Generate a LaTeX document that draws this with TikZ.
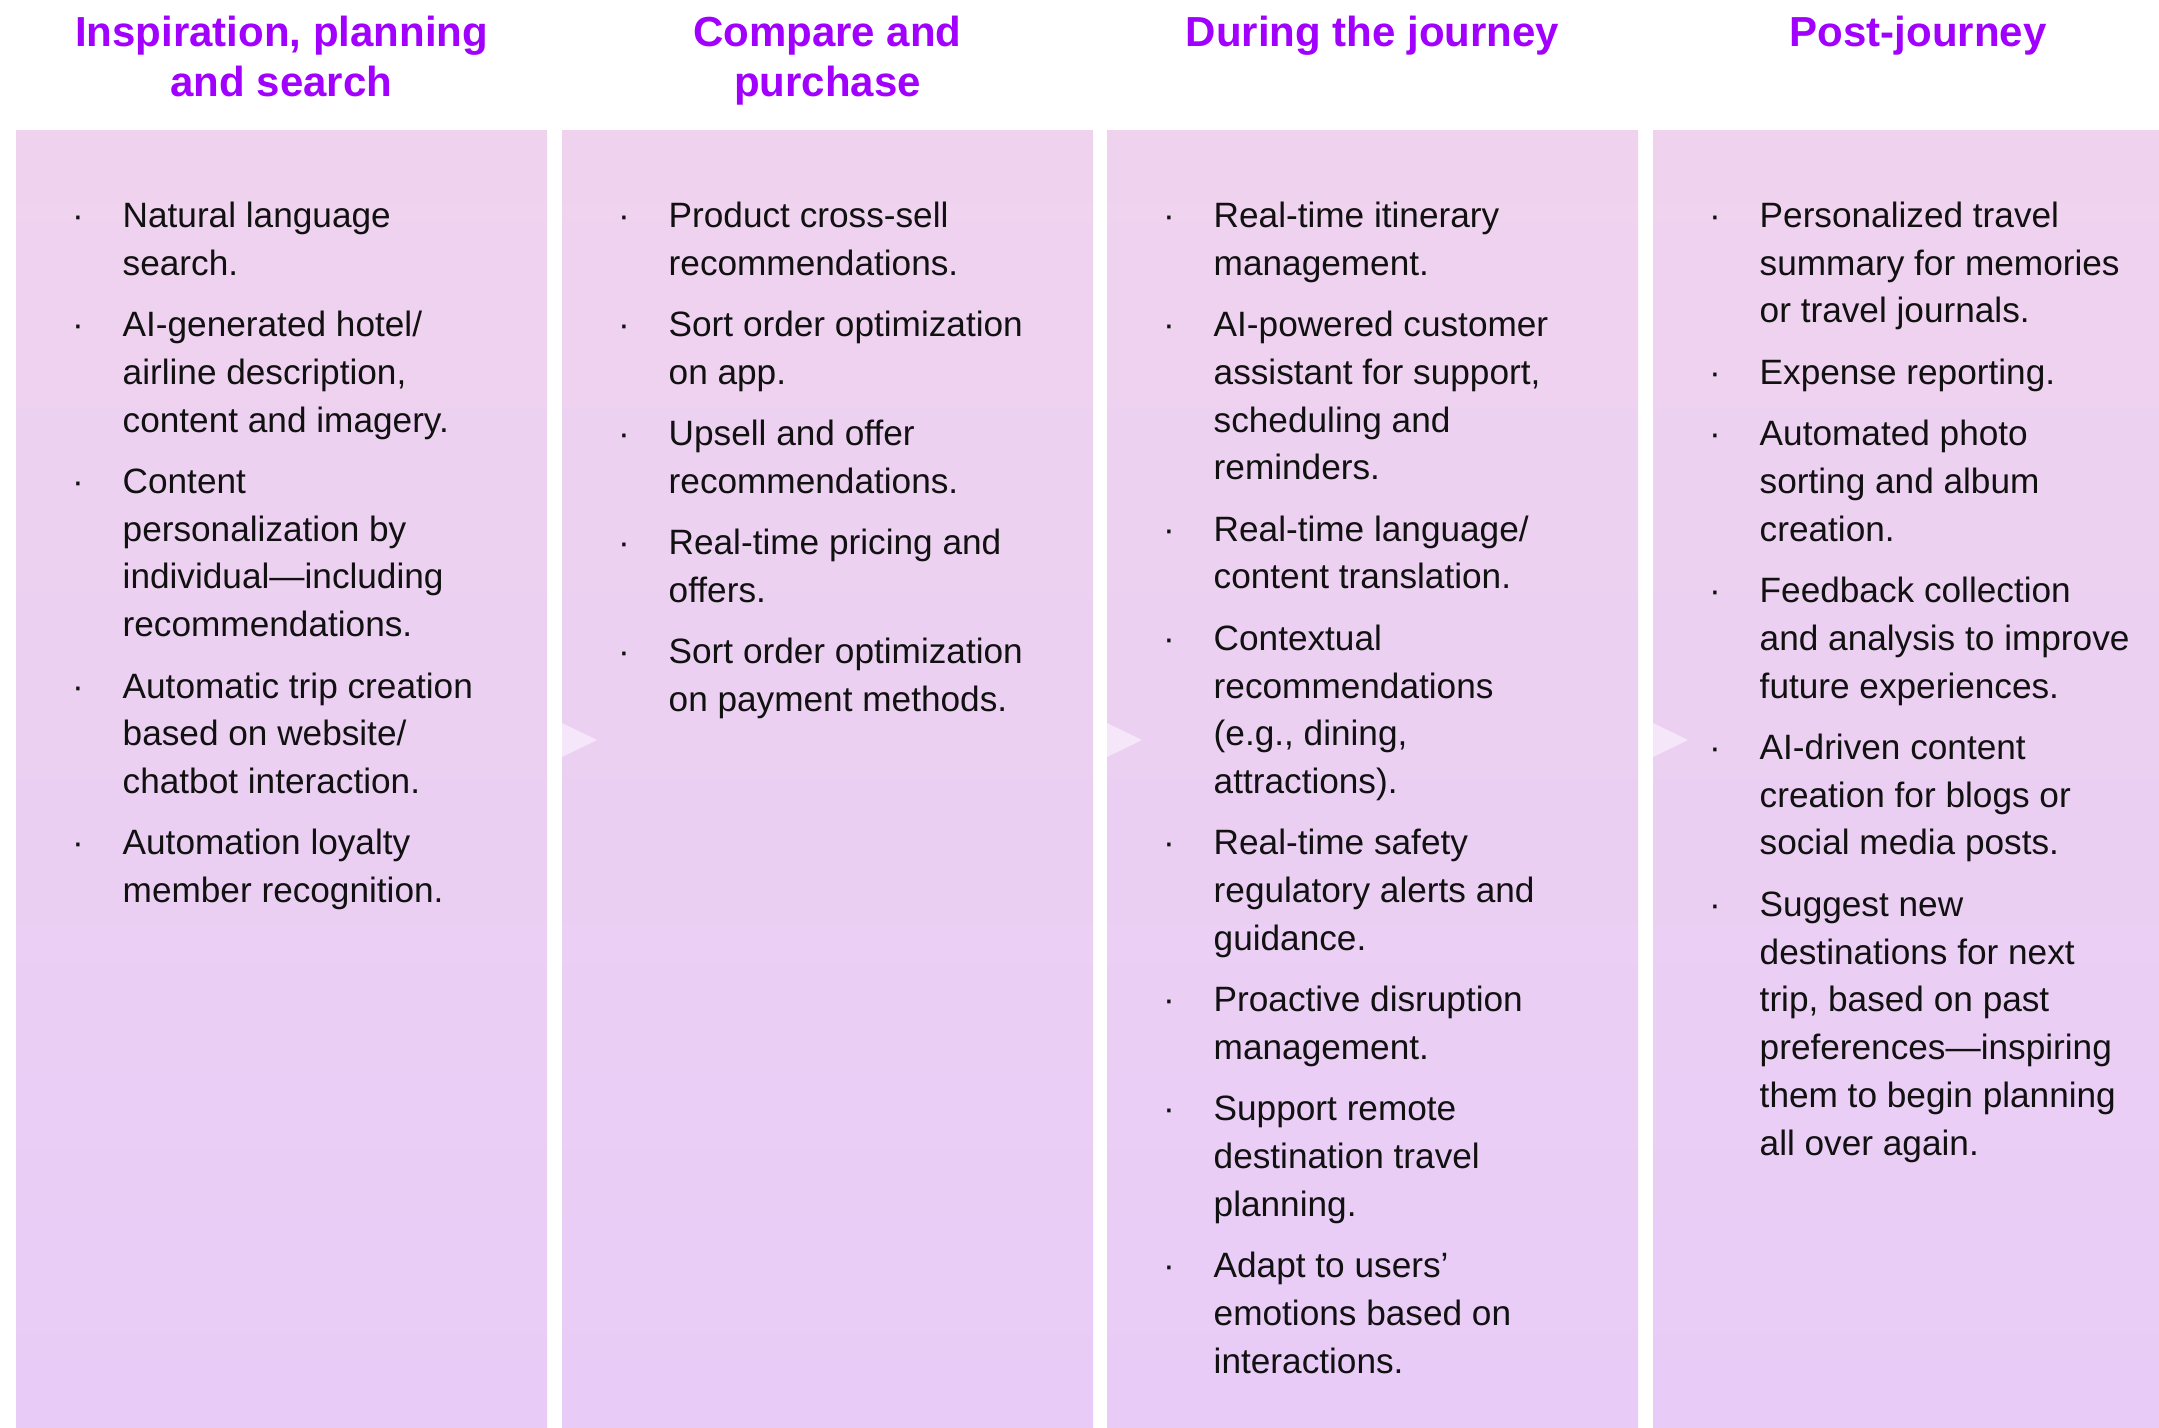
\documentclass[tikz,border=0pt]{standalone}
\usepackage{fontspec}
\setmainfont{Liberation Sans}
\definecolor{hdr}{HTML}{A100FF}
\definecolor{ptop}{HTML}{EFD3EE}
\definecolor{pbot}{HTML}{E8CCF7}
\definecolor{arr}{HTML}{F5E6FA}
\definecolor{txt}{HTML}{111111}
\newcommand\bl{\llap{\makebox[50.5pt][l]{·}}}
\newcommand\gapx{\\[13.5pt]}
\begin{document}
\begin{tikzpicture}[x=1pt,y=-1pt,
  panel/.style={top color=ptop,bottom color=pbot,draw=none},
  hdrtxt/.style={anchor=base,inner sep=0pt,text=hdr,font=\fontsize{42}{50.7}\selectfont\bfseries},
  coltxt/.style={anchor=base west,inner sep=0pt,text=txt,font=\fontsize{35.2}{47.8}\selectfont},
  tri/.style={fill=arr,draw=none}]
\useasboundingbox (0,0) rectangle (2159,1427);
% panels
\shade[panel] (16,130) rectangle (547,1427);
\shade[panel] (562,130) rectangle (1093,1427);
\shade[panel] (1107,130) rectangle (1638,1427);
\shade[panel] (1653,130) rectangle (2159,1427);
% arrows
\fill[tri] (562,723) -- (597,740) -- (562,757) -- cycle;
\fill[tri] (1107,723) -- (1142,740) -- (1107,757) -- cycle;
\fill[tri] (1653,723) -- (1688,740) -- (1653,757) -- cycle;
% headers
\node[hdrtxt] (h1) at (281.5,46) {\begin{tabular}[t]{@{}c@{}}Inspiration, planning\\and search\end{tabular}};
\node[hdrtxt] (h2) at (827.5,46) {\begin{tabular}[t]{@{}c@{}}Compare and\\purchase\end{tabular}};
\node[hdrtxt] (h3) at (1372.5,46) {During the journey};
\node[hdrtxt] (h4) at (1918,46) {Post-journey};
% columns
\node[coltxt] (c1) at (122.5,227.3) {\begin{tabular}[t]{@{}l@{}}
\bl Natural language\\ search.\gapx
\bl AI-generated hotel/\\ airline description,\\ content and imagery.\gapx
\bl Content\\ personalization by\\ individual—including\\ recommendations.\gapx
\bl Automatic trip creation\\ based on website/\\ chatbot interaction.\gapx
\bl Automation loyalty\\ member recognition.
\end{tabular}};
\node[coltxt] (c2) at (668.5,227.3) {\begin{tabular}[t]{@{}l@{}}
\bl Product cross-sell\\ recommendations.\gapx
\bl Sort order optimization\\ on app.\gapx
\bl Upsell and offer\\ recommendations.\gapx
\bl Real-time pricing and\\ offers.\gapx
\bl Sort order optimization\\ on payment methods.
\end{tabular}};
\node[coltxt] (c3) at (1213.5,227.3) {\begin{tabular}[t]{@{}l@{}}
\bl Real-time itinerary\\ management.\gapx
\bl AI-powered customer\\ assistant for support,\\ scheduling and\\ reminders.\gapx
\bl Real-time language/\\ content translation.\gapx
\bl Contextual\\ recommendations\\ (e.g., dining,\\ attractions).\gapx
\bl Real-time safety\\ regulatory alerts and\\ guidance.\gapx
\bl Proactive disruption\\ management.\gapx
\bl Support remote\\ destination travel\\ planning.\gapx
\bl Adapt to users’\\ emotions based on\\ interactions.
\end{tabular}};
\node[coltxt] (c4) at (1759.5,227.3) {\begin{tabular}[t]{@{}l@{}}
\bl Personalized travel\\ summary for memories\\ or travel journals.\gapx
\bl Expense reporting.\gapx
\bl Automated photo\\ sorting and album\\ creation.\gapx
\bl Feedback collection\\ and analysis to improve\\ future experiences.\gapx
\bl AI-driven content\\ creation for blogs or\\ social media posts.\gapx
\bl Suggest new\\ destinations for next\\ trip, based on past\\ preferences—inspiring\\ them to begin planning\\ all over again.
\end{tabular}};
\end{tikzpicture}
\end{document}
